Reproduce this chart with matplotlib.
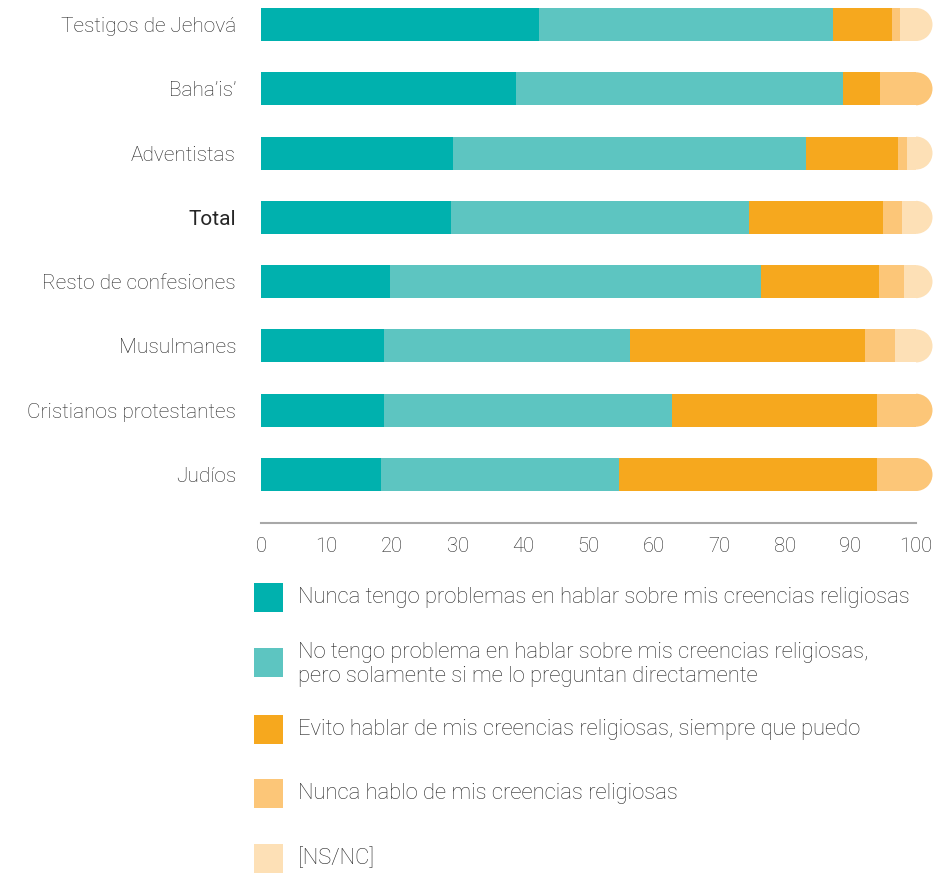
import matplotlib
matplotlib.use("Agg")
import matplotlib.pyplot as plt
from matplotlib.patches import Wedge, Rectangle
from matplotlib.transforms import Affine2D, ScaledTranslation

plt.rcParams['font.family'] = ['Roboto', 'DejaVu Sans']

categories = ["Testigos de Jehová", "Baha’is’", "Adventistas", "Total",
              "Resto de confesiones", "Musulmanes", "Cristianos protestantes", "Judíos"]
nunca_problemas = [42.4, 38.9, 29.3, 29.0, 19.7, 18.8, 18.8, 18.3]
si_preguntan = [44.9, 50.0, 53.9, 45.5, 56.7, 37.5, 43.9, 36.4]
evito = [9.1, 5.6, 14.1, 20.5, 18.0, 35.9, 31.3, 39.3]
nunca_hablo = [1.2, 5.5, 1.3, 2.9, 3.8, 4.6, 6.0, 6.0]
ns_nc = [2.4, 0.0, 1.4, 2.1, 1.8, 3.2, 0.0, 0.0]
series_labels = [
    "Nunca tengo problemas en hablar sobre mis creencias religiosas",
    "No tengo problema en hablar sobre mis creencias religiosas,\npero solamente si me lo preguntan directamente",
    "Evito hablar de mis creencias religiosas, siempre que puedo",
    "Nunca hablo de mis creencias religiosas",
    "[NS/NC]",
]
x_ticks = [0, 10, 20, 30, 40, 50, 60, 70, 80, 90, 100]

colors = ["#00B1AE", "#5DC5C1", "#F6A81E", "#FCC678", "#FDE0B6"]
text_color = "#262626"

W, H = 938, 874
fig = plt.figure(figsize=(W / 100, H / 100), dpi=100)
left, right = 261 / W, 916 / W
ax_top_px, ax_bot_px = 0, 522.7
ax = fig.add_axes([left, 1 - ax_bot_px / H, right - left, (ax_bot_px - ax_top_px) / H])

spacing = 64.3
bar_h = 33 / spacing
ys = list(range(len(categories)))
series = [nunca_problemas, si_preguntan, evito, nunca_hablo, ns_nc]

lefts = [0.0] * len(categories)
for vals, col in zip(series, colors):
    ax.barh(ys, vals, left=lefts, height=bar_h, color=col, linewidth=0)
    lefts = [l + v for l, v in zip(lefts, vals)]

# rounded caps at the end of each bar
radius_px = bar_h * spacing / 2
for i, y in enumerate(ys):
    last_col = None
    for vals, col in zip(series, colors):
        if vals[i] > 0:
            last_col = col
    tr = Affine2D() + ScaledTranslation(lefts[i], y, ax.transData)
    w = Wedge((0, 0), radius_px, -90, 90, transform=tr, color=last_col,
              linewidth=0, clip_on=False)
    ax.add_artist(w)

ax.set_xlim(0, 100)
ax.set_ylim(7 + (ax_bot_px - 474.5) / spacing, -24.5 / spacing)
ax.set_yticks(ys)
ax.set_yticklabels(categories)
for lbl in ax.get_yticklabels():
    lbl.set_fontweight('light')
    if lbl.get_text() == "Total":
        lbl.set_fontweight('normal')
        lbl.set_color("#111111")
ax.set_xticks(x_ticks)
ax.set_xticklabels([str(t) for t in x_ticks], fontweight='light')
ax.tick_params(axis='y', length=0, pad=18, labelsize=15, labelcolor=text_color)
ax.tick_params(axis='x', length=0, pad=10, labelsize=14.5, labelcolor=text_color)
for s in ['top', 'right', 'left']:
    ax.spines[s].set_visible(False)
ax.spines['bottom'].set_color('#a8a8a8')
ax.spines['bottom'].set_linewidth(1.5)

# legend
leg_rows = [597, 662, 729, 793, 858]
text_rows = [597, 664.5, 729, 793, 858]
sq = 29
for lab, col, yc, yt in zip(series_labels, colors, leg_rows, text_rows):
    fig.patches.append(Rectangle((254 / W, 1 - (yc + sq / 2) / H), sq / W, sq / H,
                                 transform=fig.transFigure, color=col, linewidth=0))
    fig.text(298 / W, 1 - yt / H, lab, fontsize=15.8, color=text_color, va='center',
             ha='left', fontweight='light', linespacing=1.22)

fig.savefig("out.png", dpi=100)
